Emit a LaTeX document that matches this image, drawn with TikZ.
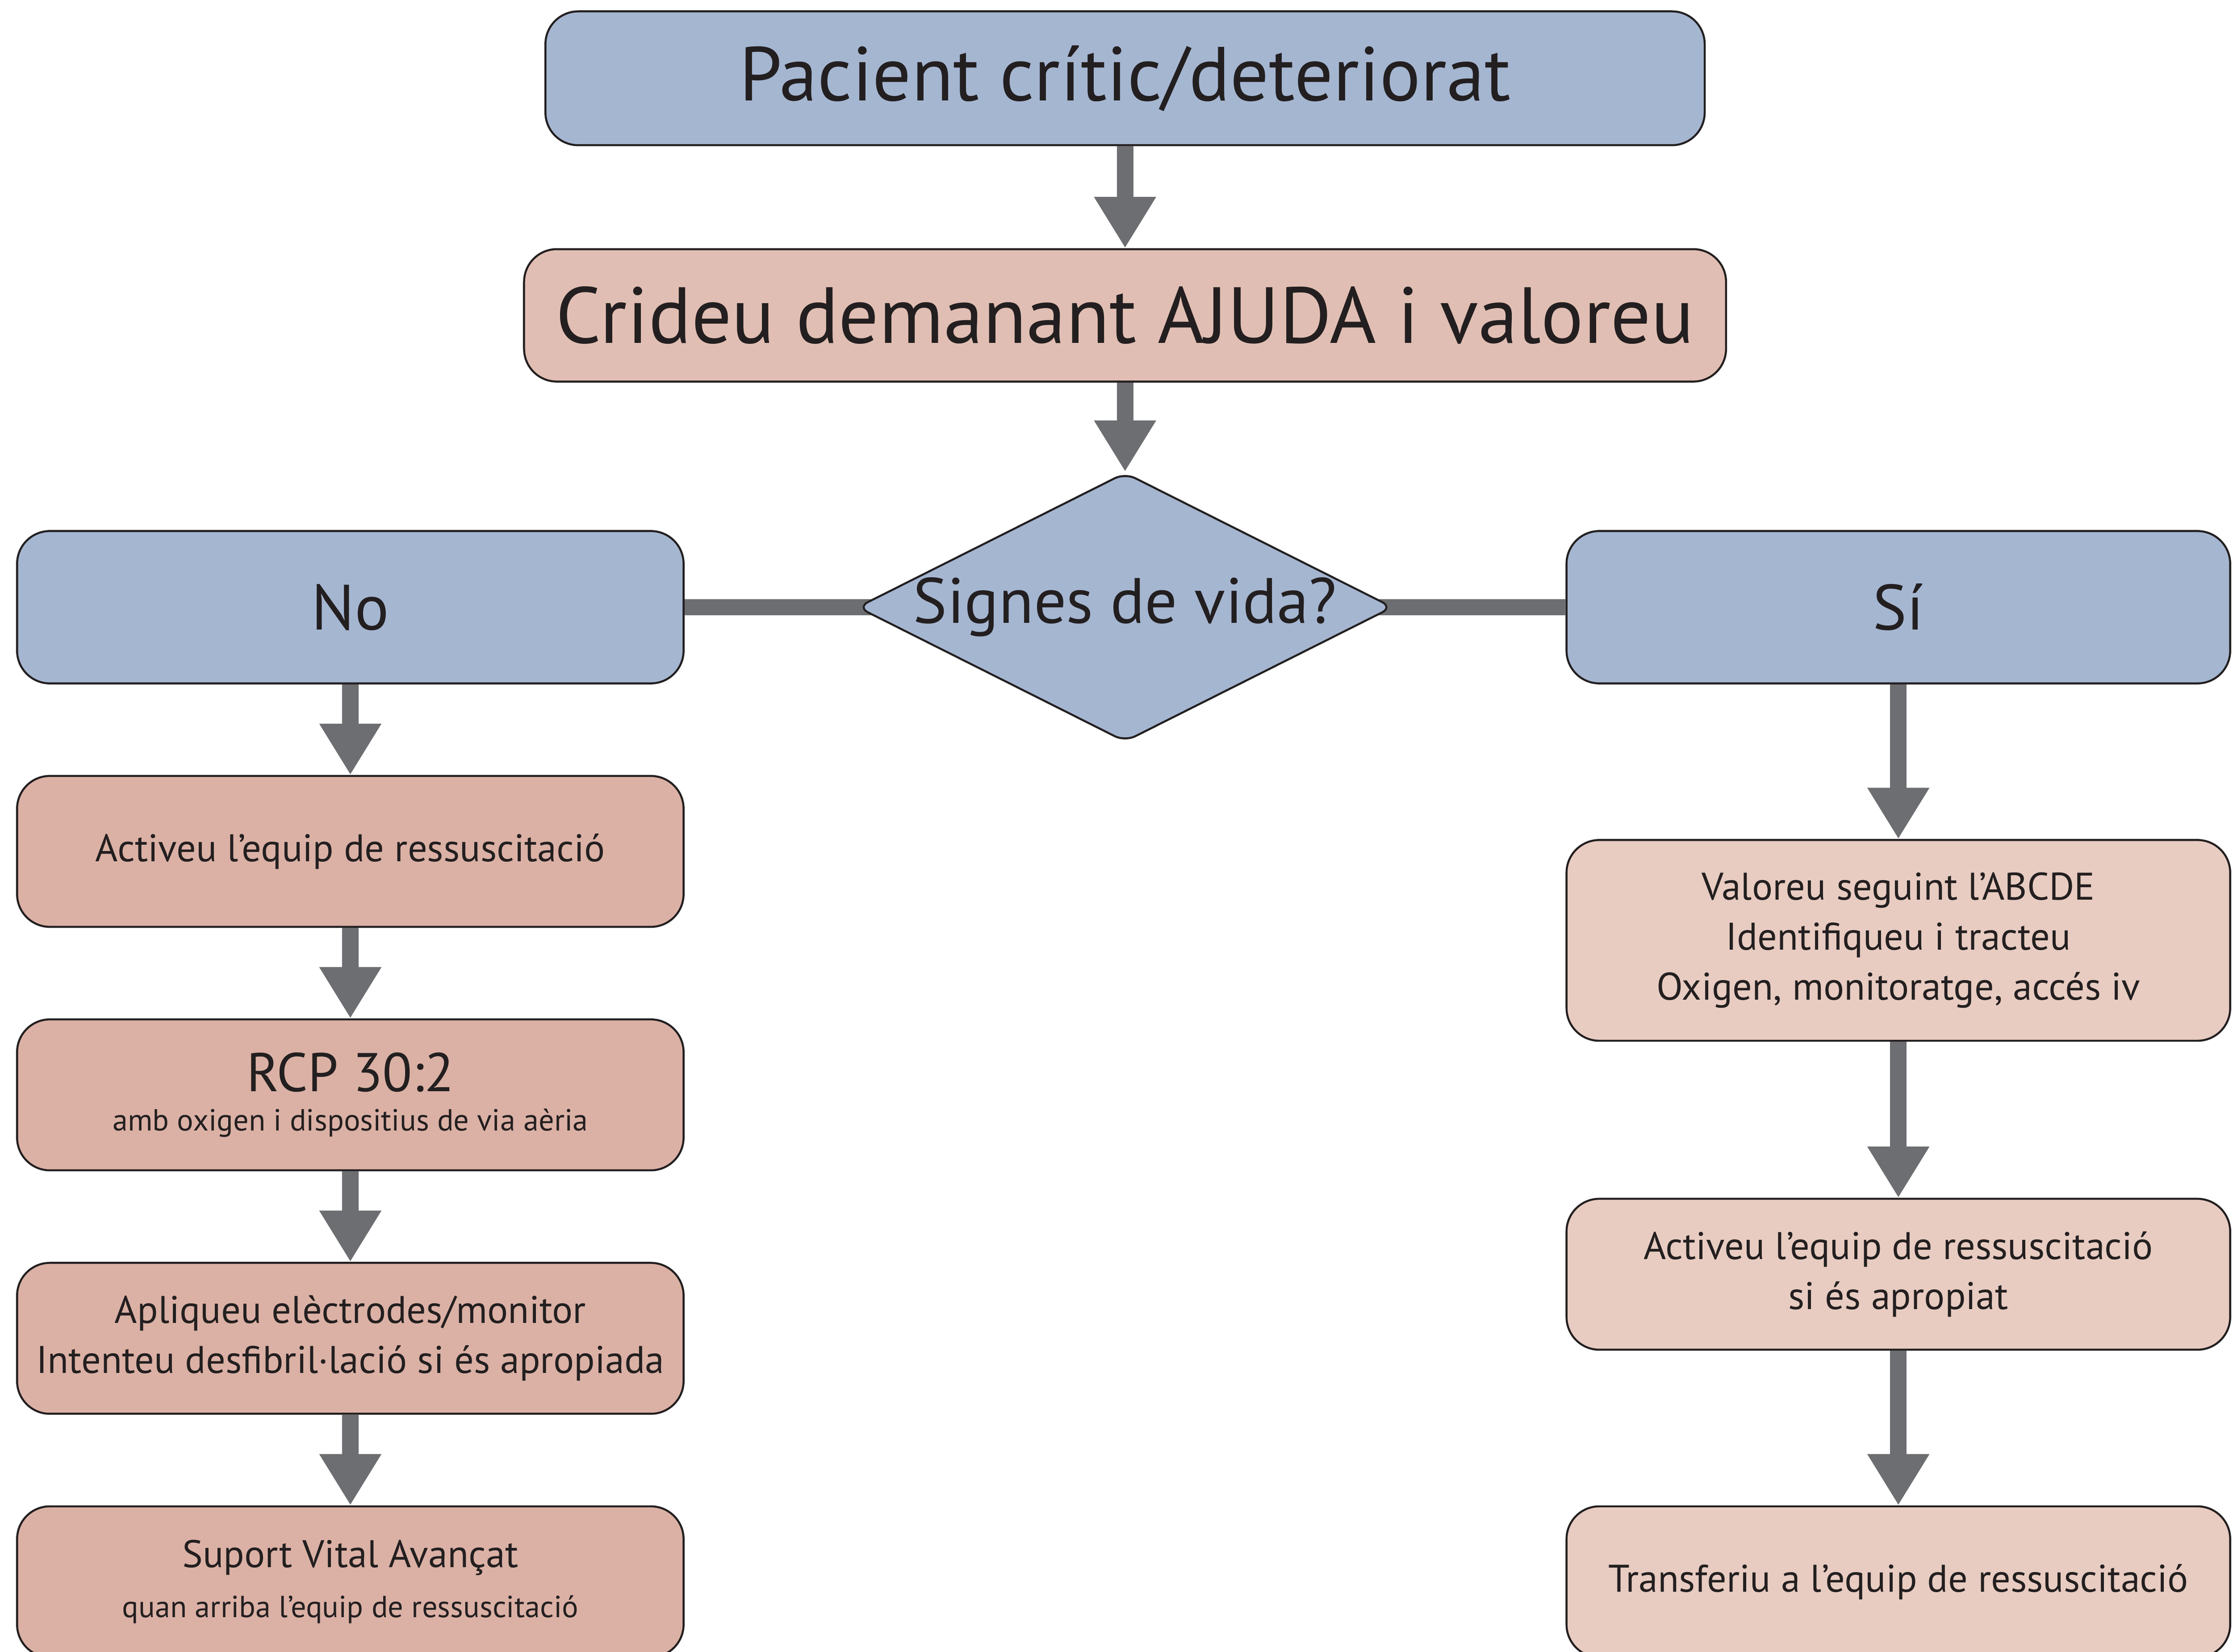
\documentclass[tikz,border=0pt]{standalone}
\usepackage{fontspec}
\setmainfont{PT Sans}
\usetikzlibrary{shapes.geometric,arrows.meta,backgrounds}
\definecolor{boxblue}{HTML}{A5B6D1}
\definecolor{boxrose}{HTML}{E1BEB3}
\definecolor{boxleft}{HTML}{DBB1A5}
\definecolor{boxright}{HTML}{E8CCC1}
\definecolor{arrowgrey}{HTML}{6D6E71}
\definecolor{inkblack}{HTML}{231F20}
\newcommand{\fsize}[2]{\fontsize{#1}{#2}\selectfont}

\begin{document}
\begin{tikzpicture}[x=1cm, y=1cm,
	box/.style={draw=inkblack, line width=0.4pt, rounded corners=0.23cm, align=center, inner sep=0pt},
	stepleft/.style={box, fill=boxleft, minimum width=4.68cm, minimum height=1.06cm, font=\fsize{7.7}{10}},
	stepright/.style={box, fill=boxright, minimum width=4.66cm, minimum height=1.06cm, font=\fsize{7.7}{10}},
	answer/.style={box, fill=boxblue, minimum height=1.07cm, font=\fsize{12.8}{15}},
	flow/.style={arrowgrey, line width=0.117cm, -{Triangle[width=0.41cm, length=0.36cm]}},
	link/.style={arrowgrey, line width=0.115cm}]
	\tikzstyle{every node}=[text=inkblack]

	\clip (0,0) rectangle (15.68,11.60);

	%top
	\node[box, fill=boxblue, minimum width=8.14cm, minimum height=0.94cm, font=\fsize{15.3}{18}] (pacient) at (7.90,11.05) {Pacient crític/deteriorat};
	\node[box, fill=boxrose, minimum width=8.44cm, minimum height=0.93cm, font=\fsize{15.9}{19}] (crideu) at (7.90,9.385) {Crideu demanant AJUDA i valoreu};
	\node[diamond, draw=inkblack, line width=0.4pt, fill=boxblue, rounded corners=0.08cm, minimum width=3.76cm, minimum height=1.89cm, inner sep=0pt, font=\fsize{12.8}{15}] (vida) at (7.90,7.335) {\makebox[0pt]{\raisebox{-0.03cm}{Signes de vida?}}};
	\node[answer, minimum width=4.68cm] (no) at (2.46,7.335) {No};
	\node[answer, minimum width=4.66cm] (si) at (13.33,7.335) {Sí};

	%left column
	\node[stepleft] (equip) at (2.46,5.62) {Activeu l’equip de ressuscitació};
	\node[stepleft, font=\fsize{6.1}{7.85}] (rcp) at (2.46,3.91) {{\fsize{10.9}{13}RCP 30:2}\\amb oxigen i dispositius de via aèria};
	\node[stepleft] (monitor) at (2.46,2.20) {Apliqueu elèctrodes/monitor\\Intenteu desfibril·lació si és apropiada};
	\node[stepleft, font=\fsize{6.1}{10}] (avancat) at (2.46,0.49) {{\fsize{7.7}{10}Suport Vital Avançat}\\quan arriba l’equip de ressuscitació};

	%right column
	\node[stepright, minimum height=1.41cm] (abcde) at (13.33,4.995) {Valoreu seguint l’ABCDE\\Identifiqueu i tracteu\\Oxigen, monitoratge, accés iv};
	\node[stepright] (apropiat) at (13.33,2.65) {Activeu l’equip de ressuscitació\\si és apropiat};
	\node[stepright] (transfer) at (13.33,0.49) {Transferiu a l’equip de ressuscitació};

	%arrows
	\draw[flow] (pacient) -- (crideu);
	\draw[flow] (crideu) -- (vida);
	\begin{scope}[on background layer]
		\draw[link] (no) -- (vida.center);
		\draw[link] (vida.center) -- (si);
	\end{scope}
	\draw[flow] (no) -- (equip);
	\draw[flow] (equip) -- (rcp);
	\draw[flow] (rcp) -- (monitor);
	\draw[flow] (monitor) -- (avancat);
	\draw[flow] (si) -- (abcde);
	\draw[flow] (abcde) -- (apropiat);
	\draw[flow] (apropiat) -- (transfer);
\end{tikzpicture}
\end{document}
